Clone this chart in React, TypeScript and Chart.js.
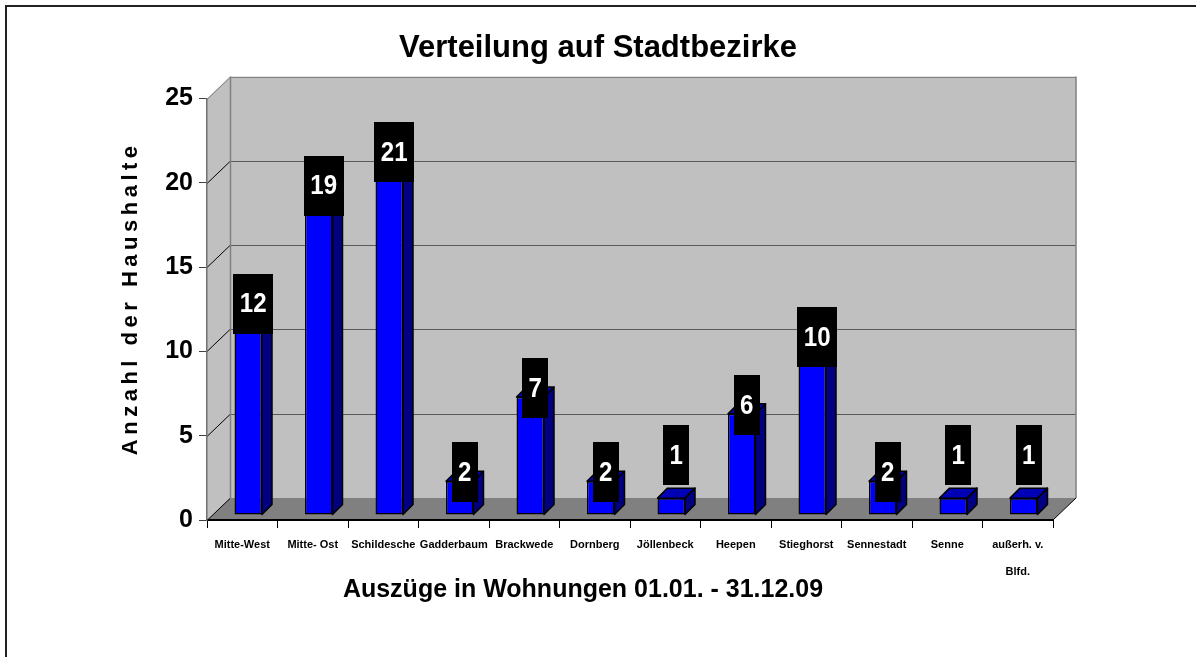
import React, { useEffect, useRef } from 'react';
import { Chart, registerables } from 'chart.js';

Chart.register(...registerables);

// ---------- data ----------
const categories: (string | string[])[] = [
  'Mitte-West',
  'Mitte- Ost',
  'Schildesche',
  'Gadderbaum',
  'Brackwede',
  'Dornberg',
  'Jöllenbeck',
  'Heepen',
  'Stieghorst',
  'Sennestadt',
  'Senne',
  ['außerh. v.', 'Blfd.'],
];
const households = [12, 19, 21, 2, 7, 2, 1, 6, 10, 2, 1, 1];
const yTicks = [0, 5, 10, 15, 20, 25];
const chartTitle = 'Verteilung auf Stadtbezirke';
const xTitle = 'Auszüge in Wohnungen 01.01. - 31.12.09';
const yTitle = 'Anzahl der Haushalte';

// ---------- style ----------
const FONT = "'Liberation Sans', Arial, sans-serif";
const WALL_DX = 23;
const WALL_DY = 22;
const BAR_DX = 6;
const BAR_DY = 5;
const BAR_DEPTH = 10;

const wallsPlugin = {
  id: 'walls3d',
  beforeDraw(chart: any) {
    const { ctx, chartArea } = chart;
    const ys = chart.scales.y;
    const left = chartArea.left;
    const right = chartArea.right;
    const yTop = ys.getPixelForValue(yTicks[yTicks.length - 1]);
    const yBot = ys.getPixelForValue(0);
    ctx.save();
    // left wall
    ctx.fillStyle = '#c0c0c0';
    ctx.beginPath();
    ctx.moveTo(left, yTop);
    ctx.lineTo(left + WALL_DX, yTop - WALL_DY);
    ctx.lineTo(left + WALL_DX, yBot - WALL_DY);
    ctx.lineTo(left, yBot);
    ctx.closePath();
    ctx.fill();
    // back wall
    ctx.fillRect(left + WALL_DX, yTop - WALL_DY, right - left, yBot - yTop);
    // floor
    ctx.fillStyle = '#808080';
    ctx.beginPath();
    ctx.moveTo(left, yBot);
    ctx.lineTo(left + WALL_DX, yBot - WALL_DY);
    ctx.lineTo(right + WALL_DX, yBot - WALL_DY);
    ctx.lineTo(right, yBot);
    ctx.closePath();
    ctx.fill();
    // grid lines
    ctx.lineWidth = 1;
    for (const v of yTicks) {
      const py = Math.round(ys.getPixelForValue(v)) + 0.5;
      if (v !== 0) {
        ctx.strokeStyle = v === yTicks[yTicks.length - 1] ? '#808080' : '#5a5a5a';
        ctx.beginPath();
        ctx.moveTo(left + WALL_DX, py - WALL_DY);
        ctx.lineTo(right + WALL_DX, py - WALL_DY);
        ctx.stroke();
      }
      ctx.strokeStyle = v === yTicks[yTicks.length - 1] ? '#808080' : '#000';
      ctx.beginPath();
      ctx.moveTo(left, py);
      ctx.lineTo(left + WALL_DX, py - WALL_DY);
      ctx.stroke();
    }
    // edges
    ctx.strokeStyle = '#808080';
    ctx.lineWidth = 1.5;
    ctx.beginPath();
    ctx.moveTo(left + WALL_DX + 0.5, yTop - WALL_DY);
    ctx.lineTo(left + WALL_DX + 0.5, yBot - WALL_DY);
    ctx.moveTo(right + WALL_DX, yTop - WALL_DY);
    ctx.lineTo(right + WALL_DX, yBot - WALL_DY);
    ctx.stroke();
    ctx.strokeStyle = '#000';
    ctx.lineWidth = 1;
    ctx.beginPath();
    ctx.moveTo(right, yBot);
    ctx.lineTo(right + WALL_DX, yBot - WALL_DY);
    ctx.stroke();
    ctx.restore();
  },
};

const barsPlugin = {
  id: 'bars3d',
  afterLayout(chart: any) {
    const sy = chart.scales.y;
    const sx = chart.scales.x;
    if (sy && !sy.__patched) {
      const orig = sy.drawTitle;
      sy.drawTitle = function () {
        const c = this.ctx;
        c.save();
        c.translate(0, -11);
        c.letterSpacing = '4.5px';
        orig.call(this);
        c.restore();
      };
      sy.__patched = true;
    }
    if (sx && !sx.__patched) {
      const orig = sx.drawTitle;
      sx.drawTitle = function () {
        const c = this.ctx;
        c.save();
        c.translate(-47, 0);
        orig.call(this);
        c.restore();
      };
      sx.__patched = true;
    }
  },
  beforeDatasetsDraw(chart: any) {
    chart.ctx.save();
    chart.ctx.translate(BAR_DX, -BAR_DY);
  },
  afterDatasetsDraw(chart: any) {
    const ctx = chart.ctx;
    const meta = chart.getDatasetMeta(0);
    const d = BAR_DEPTH;
    ctx.lineWidth = 1.5;
    ctx.strokeStyle = '#000';
    ctx.lineJoin = 'round';
    meta.data.forEach((el: any) => {
      const { x, y, base, width } = el.getProps(['x', 'y', 'base', 'width'], true);
      const l = x - width / 2;
      const r = x + width / 2;
      // side
      ctx.fillStyle = '#000080';
      ctx.beginPath();
      ctx.moveTo(r, y);
      ctx.lineTo(r + d, y - d);
      ctx.lineTo(r + d, base - d);
      ctx.lineTo(r, base);
      ctx.closePath();
      ctx.fill();
      ctx.stroke();
      // top
      ctx.fillStyle = '#0000b4';
      ctx.beginPath();
      ctx.moveTo(l, y);
      ctx.lineTo(l + d, y - d);
      ctx.lineTo(r + d, y - d);
      ctx.lineTo(r, y);
      ctx.closePath();
      ctx.fill();
      ctx.stroke();
    });
    ctx.restore();

    // value labels
    ctx.save();
    ctx.font = `bold 28px ${FONT}`;
    ctx.textAlign = 'center';
    ctx.textBaseline = 'middle';
    const sxk = 0.86;
    const values = chart.data.datasets[0].data as number[];
    meta.data.forEach((el: any, i: number) => {
      const { x, y } = el.getProps(['x', 'y'], true);
      const v = values[i];
      const txt = String(v);
      const tw = ctx.measureText(txt).width * sxk;
      const w = Math.round(tw + 13);
      const h = 60;
      const cx = x + BAR_DX + d / 2;
      const cy = y - BAR_DY - d / 2 - (v < 2 ? 38 : 4);
      ctx.fillStyle = '#000';
      ctx.fillRect(Math.round(cx - w / 2), Math.round(cy - h / 2), w, h);
      ctx.fillStyle = '#fff';
      ctx.save();
      ctx.translate(cx, cy + 1);
      ctx.scale(sxk, 1);
      ctx.fillText(txt, 0, 0);
      ctx.restore();
    });
    ctx.restore();
  },
};

export default function App() {
  const ref = useRef<HTMLCanvasElement>(null);
  useEffect(() => {
    const chart = new Chart(ref.current as HTMLCanvasElement, {
      type: 'bar',
      data: {
        labels: categories,
        datasets: [
          {
            data: households,
            backgroundColor: '#0000ff',
            borderColor: '#000',
            borderWidth: 1.5,
            borderSkipped: false,
            barPercentage: 0.39,
            categoryPercentage: 1,
            clip: false,
          } as any,
        ],
      },
      options: {
        responsive: false,
        animation: false,
        devicePixelRatio: 1,
        layout: { padding: 0 },
        plugins: {
          legend: { display: false },
          tooltip: { enabled: false },
          title: {
            display: true,
            text: chartTitle,
            color: '#000',
            font: { family: FONT, size: 31, weight: 'bold', lineHeight: 1.2 },
            padding: { top: 29.4, bottom: 32 },
          },
        },
        scales: {
          x: {
            offset: true,
            grid: { offset: true, drawOnChartArea: false, tickLength: 8, color: '#000', lineWidth: 1 },
            border: { color: '#000', width: 2 },
            ticks: {
              color: '#000',
              font: { family: FONT, size: 11, weight: 'bold', lineHeight: 27 / 11 },
              padding: 3.5,
              maxRotation: 0,
              autoSkip: false,
            },
            title: {
              display: true,
              text: xTitle,
              color: '#000',
              font: { family: FONT, size: 25, weight: 'bold', lineHeight: 1.2 },
              padding: { top: 0, bottom: 52 },
            },
            afterFit: (s: any) => {
              s.height = 137;
            },
          },
          y: {
            min: 0,
            max: 25,
            afterBuildTicks: (s: any) => {
              s.ticks = yTicks.map((v) => ({ value: v }));
            },
            grid: { drawOnChartArea: false, tickLength: 8, color: '#404040', lineWidth: 1 },
            border: { color: '#707070', width: 1.5 },
            ticks: {
              color: '#000',
              font: { family: FONT, size: 25, weight: 'bold' },
              padding: 6,
            },
            title: {
              display: true,
              text: yTitle,
              color: '#000',
              font: { family: FONT, size: 22, weight: 'bold', lineHeight: 1.2 },
              padding: { top: 118, bottom: 0 },
            },
            afterFit: (s: any) => {
              s.width = 207;
            },
          },
          yR: {
            position: 'right',
            display: true,
            grid: { display: false, drawTicks: false },
            border: { display: false },
            ticks: { display: false },
            afterFit: (s: any) => {
              s.width = 143;
            },
          },
        },
      } as any,
      plugins: [wallsPlugin, barsPlugin],
    });
    return () => chart.destroy();
  }, []);

  return (
    <div
      style={{
        position: 'fixed',
        left: 0,
        top: 0,
        width: 1196,
        height: 657,
        overflow: 'hidden',
        background: '#fff',
      }}
    >
      <div
        style={{
          position: 'absolute',
          left: 5,
          top: 5,
          width: 2000,
          height: 2000,
          borderLeft: '2px solid #222',
          borderTop: '2px solid #222',
        }}
      />
      <canvas
        ref={ref}
        width={1196}
        height={657}
        style={{ position: 'absolute', left: 0, top: 0, width: 1196, height: 657 }}
      />
    </div>
  );
}
